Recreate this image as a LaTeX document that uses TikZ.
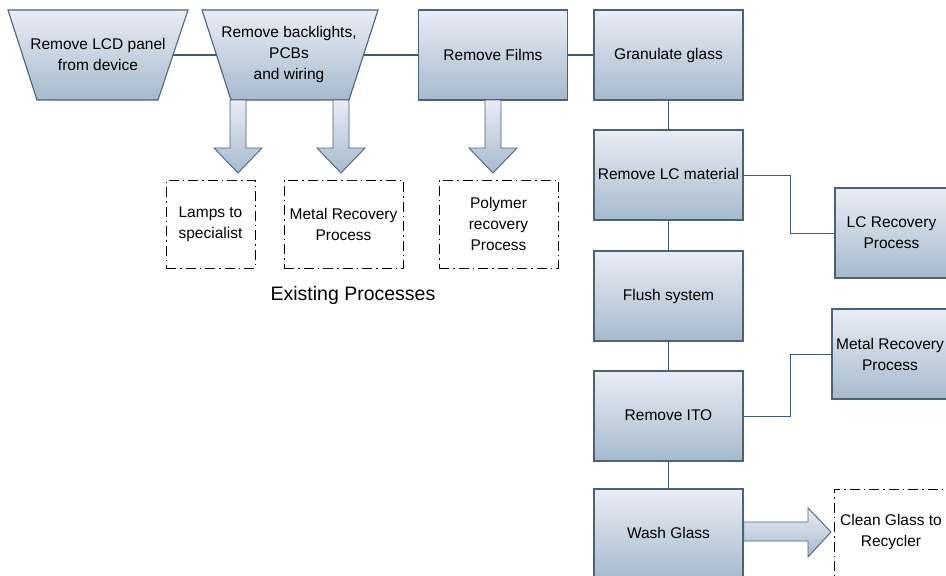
\documentclass[tikz,border=0pt]{standalone}
\usepackage{fontspec}
\setmainfont{Liberation Sans}
\definecolor{topc}{HTML}{E9EDF5}
\definecolor{botc}{HTML}{A6BACD}
\definecolor{edgec}{HTML}{4A6379}
\definecolor{linec}{HTML}{3F5B74}
\begin{document}
\begin{tikzpicture}[x=1pt,y=-1pt,
  fs/.style={font=\fontsize{15.5}{21}\selectfont},
  proc/.style={fs,draw=edgec,line width=1.1pt,top color=topc,bottom color=botc,
    minimum width=149pt,minimum height=90pt,inner sep=1pt,align=center},
  ext/.style={fs,draw=black,line width=1pt,dash pattern=on 10pt off 4pt on 1.5pt off 4pt,
    minimum height=88pt,inner sep=1pt,align=center},
  conn/.style={draw=linec,line width=1.3pt},
  barrow/.style={draw=edgec,line width=0.9pt,top color=topc,bottom color=botc},
  trapfill/.style={draw=edgec,line width=1.1pt,top color=topc,bottom color=botc},
  darr/.pic={\draw[barrow] (-8,0) -- (-8,48) -- (-24,48) -- (0,73) -- (24,48) -- (8,48) -- (8,0) -- cycle;}
]
\useasboundingbox (0,0) rectangle (946,576);
\fill[white] (0,0) rectangle (946,576);

% trapezoids
\draw[trapfill] (8,10) -- (188,10) -- (158,100) -- (37,100) -- cycle;
\node[fs,align=center] (t1) at (98,54) {Remove LCD panel\\from device};
\coordinate (t1e) at (173,55);
\draw[trapfill] (202,10) -- (378,10) -- (349,100) -- (231,100) -- cycle;
\node[fs,align=center] (t2) at (289,54) {Remove backlights,\\PCBs\\and wiring};
\coordinate (t2w) at (216.5,55);
\coordinate (t2e) at (363.5,55);

% process boxes
\node[proc] (films) at (493,55) {Remove Films};
\node[proc] (gran) at (668.5,55) {Granulate glass};
\node[proc] (lcm) at (668.5,175) {\raisebox{2pt}{Remove LC material}};
\node[proc] (flush) at (668.5,296) {Flush system};
\node[proc] (ito) at (668.5,416) {\raisebox{2pt}{Remove ITO}};
\node[proc] (wash) at (668.5,534) {\raisebox{3pt}{Wash Glass}};
\node[proc,minimum width=113pt] (lcrec) at (891.5,233) {LC Recovery\\Process};
\node[proc,minimum width=116pt] (metrec) at (890,354) {Metal Recovery\\Process};

% existing process boxes
\node[ext,minimum width=89pt] (lamps) at (210.5,224) {Lamps to\\specialist};
\node[ext,minimum width=119pt] (metal) at (343.5,224) {Metal Recovery\\Process};
\node[ext,minimum width=119pt] (poly) at (498.5,224) {Polymer\\recovery\\Process};
\node[ext,minimum width=114pt,minimum height=90pt] (clean) at (891,534) {};
\node[fs,align=center] (cleant) at (891,531.5) {Clean Glass to\\Recycler};
\node[font=\fontsize{19.5}{23}\selectfont] (exist) at (353,295) {Existing Processes};

% connectors
\draw[conn] (t1e) -- (t2w);
\draw[conn] (t2e) -- (films.west);
\draw[conn] (films.east) -- (gran.west);
\draw[conn] (gran.south) -- (lcm.north);
\draw[conn] (lcm.south) -- (flush.north);
\draw[conn] (flush.south) -- (ito.north);
\draw[conn] (ito.south) -- (wash.north);
\draw[conn,line width=1pt] (lcm.east) -- ++(47,0) |- (lcrec.west);
\draw[conn,line width=1pt] (ito.east) -- ++(47,0) |- (metrec.west);

% block arrows
\pic at (238,100) {darr};
\pic at (341,100) {darr};
\pic at (493,100) {darr};
\draw[barrow] (wash.east |- 0,522) -- (808,522) -- (808,508) -- (831,532) -- (808,557) -- (808,541) -- (wash.east |- 0,541) -- cycle;
\end{tikzpicture}
\end{document}
